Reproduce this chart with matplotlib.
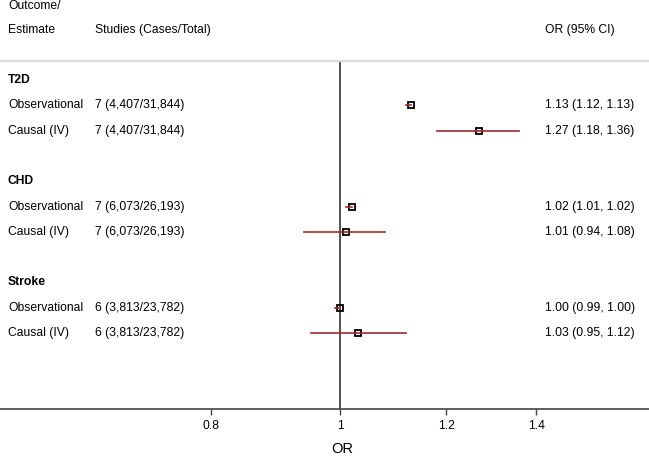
import numpy as np
import matplotlib
matplotlib.use("Agg")
import matplotlib.pyplot as plt

plt.rcParams['font.family'] = ['Liberation Sans', 'DejaVu Sans']

# data
outcomes = ["T2D", "CHD", "Stroke"]
estimates = ["Observational", "Causal (IV)"]
studies = [["7 (4,407/31,844)", "7 (4,407/31,844)"],
           ["7 (6,073/26,193)", "7 (6,073/26,193)"],
           ["6 (3,813/23,782)", "6 (3,813/23,782)"]]
or_est = [[1.13, 1.27], [1.02, 1.01], [1.00, 1.03]]
ci_lo = [[1.12, 1.18], [1.01, 0.94], [0.99, 0.95]]
ci_hi = [[1.13, 1.36], [1.02, 1.08], [1.00, 1.12]]
xticks = [0.8, 1, 1.2, 1.4]
xticklabels = ["0.8", "1", "1.2", "1.4"]

W, H = 649, 457
fig = plt.figure(figsize=(W / 100, H / 100), dpi=100)
ax = fig.add_axes([0, (H - 409) / H, 1, (409 - 61) / H])

ax.set_xscale('log')
ax.set_xlim(0.557, 1.70)
ax.set_ylim(13.0, -0.75)

fs = 8.7
red = "#a3282e"
tr = ax.get_yaxis_transform()

row = 0
for g, name in enumerate(outcomes):
    ax.text(8 / W, row, name, transform=tr, fontsize=fs, fontweight='bold', va='center')
    for k in range(2):
        r = row + 1 + k
        ax.text(8 / W, r, estimates[k], transform=tr, fontsize=fs, va='center')
        ax.text(95 / W, r, studies[g][k], transform=tr, fontsize=fs, va='center')
        ax.text(545 / W, r, "%.2f (%.2f, %.2f)" % (or_est[g][k], ci_lo[g][k], ci_hi[g][k]),
                transform=tr, fontsize=fs, va='center')
        ax.plot(or_est[g][k], r, marker='s', ms=5, mfc='none', mec='black', mew=1.3, zorder=3)
        ax.plot([ci_lo[g][k], ci_hi[g][k]], [r, r], color=red, lw=1.2, zorder=4)
    row += 4

# header
ax.text(8 / W, -2.92, "Outcome/", transform=tr, fontsize=fs, va='center')
ax.text(8 / W, -1.98, "Estimate", transform=tr, fontsize=fs, va='center')
ax.text(95 / W, -1.98, "Studies (Cases/Total)", transform=tr, fontsize=fs, va='center')
ax.text(545 / W, -1.98, "OR (95% CI)", transform=tr, fontsize=fs, va='center')

# null line and separator
ax.axvline(1, color='#333333', lw=1.2, zorder=2)
ax.axhline(-0.75, color='#dcdcdc', lw=1.6, clip_on=False)

for s in ['top', 'left', 'right']:
    ax.spines[s].set_visible(False)
ax.spines['bottom'].set_color('#444444')
ax.spines['bottom'].set_linewidth(1.2)
ax.set_yticks([])
ax.set_xticks(xticks)
ax.set_xticklabels(xticklabels, fontsize=fs)
ax.minorticks_off()
ax.tick_params(axis='x', length=4, width=1, color='#444444', pad=4)
ax.set_xlabel("OR", fontsize=10.5, va='center')
ax.xaxis.set_label_coords(342 / W, (409 - 449) / 348)

fig.savefig("out.png", dpi=100)
